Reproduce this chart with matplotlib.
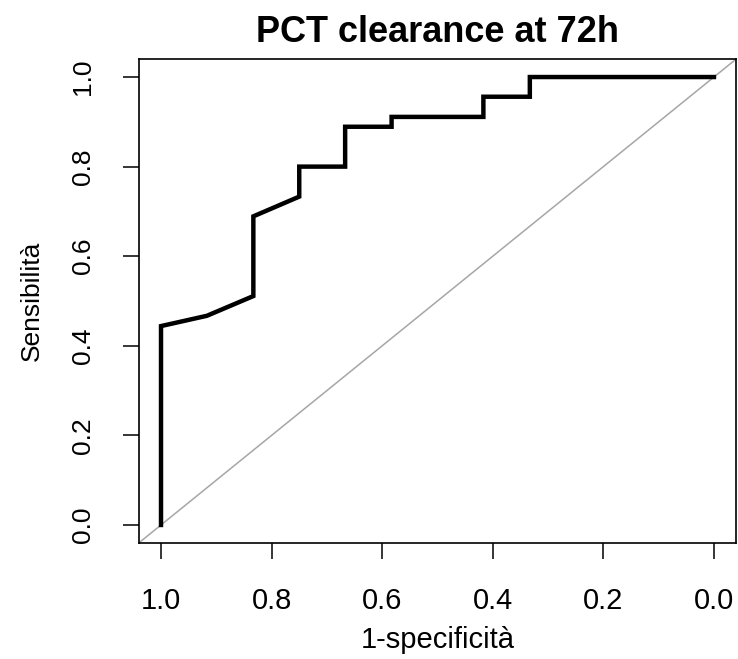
import matplotlib
matplotlib.use("Agg")
import matplotlib.pyplot as plt

plt.rcParams['font.family'] = ['Liberation Sans', 'DejaVu Sans']

# ROC curve points (specificity on a reversed x axis)
specificity = [1.0, 1.0, 0.917, 0.833, 0.833, 0.75, 0.75, 0.667, 0.667,
               0.583, 0.583, 0.417, 0.417, 0.333, 0.333, 0.0]
sensitivity = [0.0, 0.444, 0.467, 0.511, 0.689, 0.733, 0.8, 0.8, 0.889,
               0.889, 0.911, 0.911, 0.956, 0.956, 1.0, 1.0]
ticks = [1.0, 0.8, 0.6, 0.4, 0.2, 0.0]
tick_labels = ['1.0', '0.8', '0.6', '0.4', '0.2', '0.0']

fig = plt.figure(figsize=(7.38, 6.59), dpi=100)
ax = fig.add_axes([0.1882, 0.1762, 0.8092, 0.7341])

# chance line across the whole box
ax.axline((1.0, 0.0), (0.0, 1.0), color='#a6a6a6', linewidth=1.1, zorder=1)
ax.plot(specificity, sensitivity, color='black', linewidth=3.2, zorder=2,
        solid_joinstyle='miter')

ax.set_xlim(1.04, -0.04)
ax.set_ylim(-0.04, 1.04)
ax.set_xticks(ticks)
ax.set_xticklabels(tick_labels)
ax.set_yticks(ticks)
ax.set_yticklabels(tick_labels, rotation=90, va='center')

for s in ax.spines.values():
    s.set_linewidth(1.2)
ax.tick_params(axis='both', direction='out', length=11.5, width=1.1)
ax.tick_params(axis='x', labelsize=21, pad=20)
ax.tick_params(axis='y', labelsize=19, pad=20)

ax.set_title('PCT clearance at 72h', fontsize=26, fontweight='bold', pad=12)
ax.set_xlabel('1-specificità', fontsize=21, labelpad=8)
ax.set_ylabel('Sensibilità', fontsize=19, labelpad=20)

fig.savefig('out.png', dpi=100)
